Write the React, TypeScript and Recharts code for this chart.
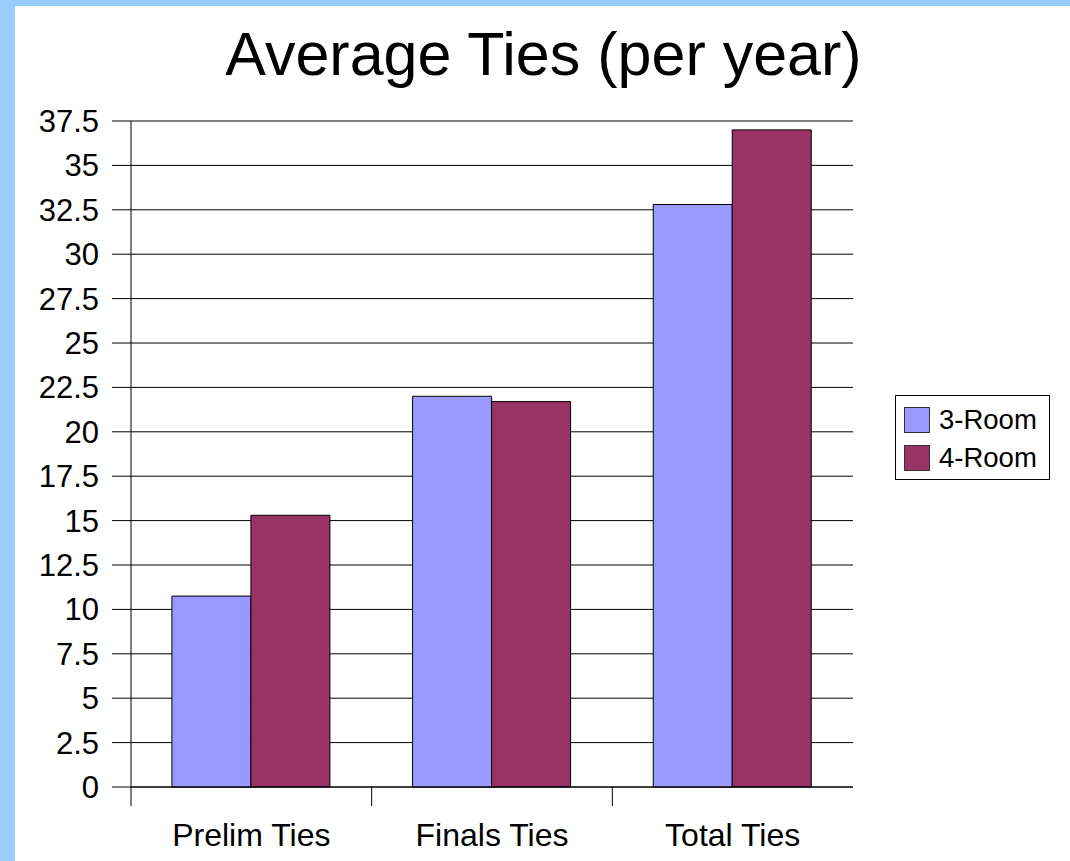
import React from "react";
import { BarChart, Bar, XAxis, YAxis, CartesianGrid, Legend } from "recharts";

// average ties per year, by round
const categories = ["Prelim Ties", "Finals Ties", "Total Ties"];
const threeRoom = [10.75, 22.0, 32.8];
const fourRoom = [15.3, 21.7, 37.0];
const yTicks = [0, 2.5, 5, 7.5, 10, 12.5, 15, 17.5, 20, 22.5, 25, 27.5, 30, 32.5, 35, 37.5];

const series = [
  { key: "threeRoom", name: "3-Room", color: "#9999FF" },
  { key: "fourRoom", name: "4-Room", color: "#993366" },
];

const data = categories.map((name, i) => ({
  name,
  threeRoom: threeRoom[i],
  fourRoom: fourRoom[i],
}));

const W = 1070;
const H = 861;
const MARGIN = { top: 121, right: 217, bottom: 0, left: 0 };
const Y_AXIS_W = 131;
const X_AXIS_H = 74;
const FONT = '"Liberation Sans", Arial, sans-serif';
const BAND = (W - MARGIN.left - MARGIN.right - Y_AXIS_W) / categories.length;

// label under each category, with a tick on the left edge of its band
function CategoryTick(props: any) {
  const { x, y, payload } = props;
  const left = x - BAND / 2;
  return (
    <g>
      <line x1={left} x2={left} y1={y} y2={y + 19} stroke="#000" />
      <text
        x={x}
        y={y + 59}
        textAnchor="middle"
        fontSize={32}
        fontFamily={FONT}
        fill="#000"
      >
        {payload.value}
      </text>
    </g>
  );
}

function LegendBox(props: any) {
  const items = props.payload || [];
  return (
    <div
      style={{
        width: 155,
        height: 85,
        boxSizing: "border-box",
        border: "1px solid #000",
        background: "#fff",
        padding: "5px 8px 0 8px",
        fontFamily: FONT,
      }}
    >
      {items.map((item: any) => (
        <div
          key={item.value}
          style={{ display: "flex", alignItems: "center", height: 38 }}
        >
          <div
            style={{
              width: 26,
              height: 26,
              boxSizing: "border-box",
              background: item.color,
              border: "1px solid #333",
            }}
          />
          <span style={{ marginLeft: 9, fontSize: 27.5, lineHeight: 1, color: "#000" }}>
            {item.value}
          </span>
        </div>
      ))}
    </div>
  );
}

export default function App() {
  return (
    <div
      style={{
        position: "absolute",
        left: 0,
        top: 0,
        width: W,
        height: H,
        background: "#99CCFF",
        overflow: "hidden",
      }}
    >
      <div
        style={{
          position: "absolute",
          left: 15,
          top: 6,
          right: 0,
          bottom: 0,
          background: "#fff",
        }}
      />
      <div
        style={{
          position: "absolute",
          left: 17,
          right: 0,
          top: 24,
          textAlign: "center",
          fontFamily: FONT,
          fontSize: 61,
          lineHeight: "60px",
          color: "#000",
        }}
      >
        Average Ties (per year)
      </div>
      <div style={{ position: "absolute", left: 0, top: 0 }}>
        <BarChart
          width={W}
          height={H}
          data={data}
          margin={MARGIN}
          barCategoryGap="17%"
          barGap={0}
        >
          <CartesianGrid vertical={false} stroke="#000" />
          <XAxis
            dataKey="name"
            height={X_AXIS_H}
            stroke="#000"
            tickLine={false}
            tickSize={0}
            tickMargin={0}
            interval={0}
            tick={<CategoryTick />}
          />
          <YAxis
            width={Y_AXIS_W}
            domain={[0, 37.5]}
            ticks={yTicks}
            interval={0}
            stroke="#000"
            tickSize={19}
            tickMargin={13}
            tick={{ fontSize: 31, fill: "#000", fontFamily: FONT }}
          />
          <Legend
            layout="vertical"
            align="center"
            verticalAlign="middle"
            content={<LegendBox />}
            wrapperStyle={{ left: 895, top: 395, width: 155 }}
          />
          {series.map((s) => (
            <Bar
              key={s.key}
              dataKey={s.key}
              name={s.name}
              fill={s.color}
              stroke="#000"
              strokeWidth={1}
              isAnimationActive={false}
            />
          ))}
        </BarChart>
      </div>
    </div>
  );
}
